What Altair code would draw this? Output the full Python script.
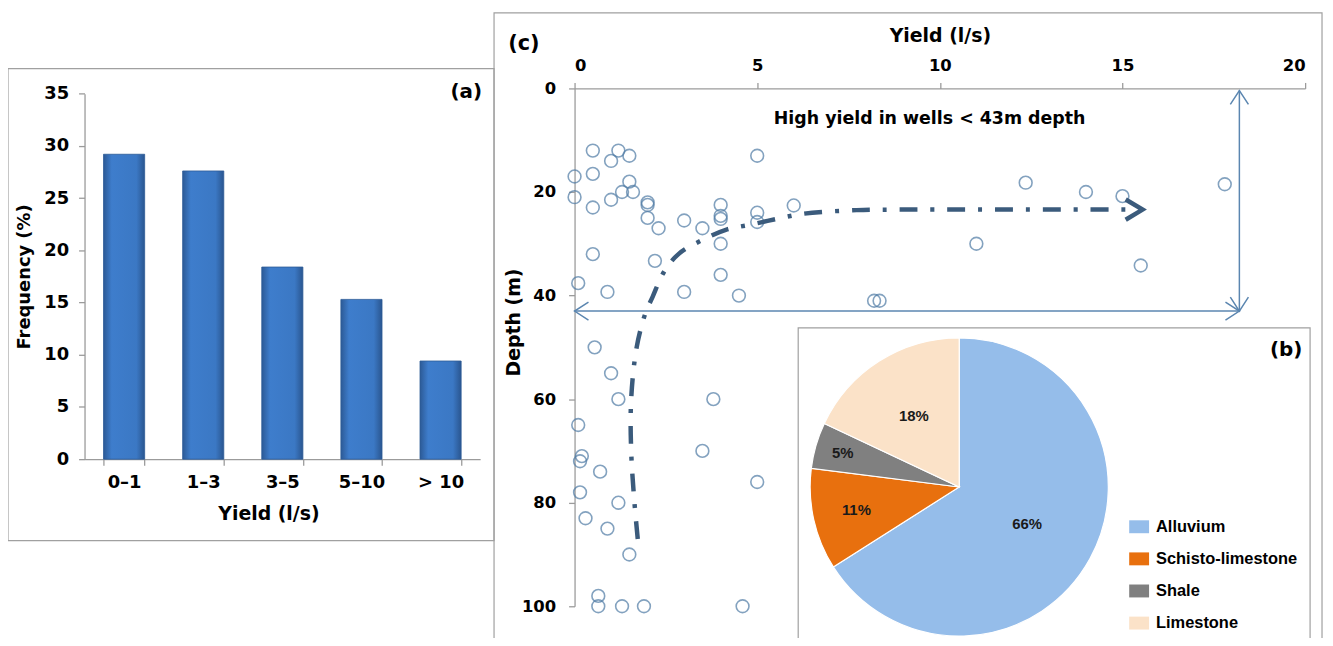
import altair as alt
import pandas as pd

# ---------------- data ----------------
# (a) frequency of yield classes
yield_classes = ["0–1", "1–3", "3–5", "5–10", "> 10"]
frequency = [29.2, 27.6, 18.4, 15.3, 9.4]

# (c) wells: yield (l/s) vs depth (m)
well_yield = [0.5, 1.2, 1.0, 1.5, 0.0, 0.5, 1.5, 0.0, 1.0, 1.3, 1.6, 0.5, 2.0, 2.0, 2.0,
              2.3, 3.0, 3.5, 4.0, 4.0, 4.0, 4.0, 4.0, 5.0, 5.0, 5.0, 0.5, 2.2, 0.1, 0.9,
              3.0, 4.5, 6.0, 8.2, 8.35, 12.35, 14.0, 15.0, 17.8, 11.0, 15.5, 0.55, 1.0, 1.2,
              3.8, 0.1, 0.2, 0.15, 0.7, 3.5, 5.0, 0.15, 1.2, 0.3, 0.9, 1.5, 0.65, 0.65, 1.3,
              1.9, 4.6]
well_depth = [12, 12, 14, 13, 17, 16.5, 18, 21, 21.5, 20, 20, 23, 22, 22.5, 25,
              27, 25.5, 27, 22.5, 24.6, 25.2, 30, 36, 13, 24, 25.8, 32, 33.3, 37.6, 39.3,
              39.3, 40, 22.6, 41, 41, 18.2, 20, 20.8, 18.5, 30, 34.2, 50, 55, 60,
              60, 65, 71, 72, 74, 70, 76, 78, 80, 83, 85, 90, 98, 100, 100,
              100, 100]

# hand-drawn trend guide
trend_yield = [1.73, 1.64, 1.55, 1.55, 1.7, 1.94, 2.14, 2.45, 2.86, 3.46, 4.14, 4.82,
               5.54, 6.26, 7.72, 8.76, 15.4]
trend_depth = [87, 80, 70, 60, 50, 43.4, 40.2, 35.4, 31.9, 29.4, 27.3, 26.3,
               25.2, 24.2, 23.5, 23.4, 23.4]

DEPTH_LIMIT = 43      # "< 43m depth"
ARROW_YIELD = 18.2    # position of the vertical double arrow
ARROW_TOP = 0.4

# (b) geology of wells
geology = ["Alluvium", "Schisto-limestone", "Shale", "Limestone"]
share = [66, 11, 5, 18]
geo_colors = ["#95BDEA", "#E8700E", "#808080", "#FBE2C8"]
label_radius = [78, 106, 122, 85]

# ---------------- styling ----------------
FONT = "DejaVu Sans"          # wide bold face of panels (a) and (c)
FONT_B = "Liberation Sans"    # narrower face of inset (b)
W, H = 1325, 630
AX_C = "#9B9B9B"
PT_C = "#4F7BA5"
TREND_C = "#3B5B7C"
ARROW_C = "#5B86B0"
BORDER_C = "#A0A0A0"
CHEVRON = "M -1 -0.65 L 0 0 L -1 0.65"
SWATCH = "M -1 -0.65 L 1 -0.65 L 1 0.65 L -1 0.65 Z"

bars_df = pd.DataFrame({"cls": yield_classes, "freq": frequency})
wells_df = pd.DataFrame({"yield": well_yield, "depth": well_depth})
trend_df = pd.DataFrame({"yield": trend_yield, "depth": trend_depth,
                         "i": list(range(len(trend_yield)))})
ann_df = pd.DataFrame({"zero": [0.0], "ax": [ARROW_YIELD], "top": [ARROW_TOP],
                       "lim": [DEPTH_LIMIT], "tip": [trend_yield[-1] + 0.15],
                       "tdepth": [trend_depth[-1]], "tx": [9.72], "ty": [6.0]})
geo_df = pd.DataFrame({"geology": geology, "share": share, "order": list(range(len(share))),
                       "label": [f"{s}%" for s in share]})
one = pd.DataFrame({"d": [0]})

axis_common = dict(grid=False, labelFont=FONT, labelFontWeight="bold",
                   labelColor="black", titleFont=FONT, titleFontWeight="bold",
                   titleColor="black", domainColor=AX_C, tickColor=AX_C,
                   domainWidth=1.3, tickWidth=1.3, tickSize=6)

# scales (explicit pixel ranges place each panel inside the single canvas)
xa = alt.Scale(domain=yield_classes, range=[77, 475], paddingInner=0.48, paddingOuter=0.24)
ya = alt.Scale(domain=[0, 35], range=[452, 84.3], nice=False, zero=False)
xc = alt.Scale(domain=[0, 20], range=[570, 1305], nice=False, zero=False)
yc = alt.Scale(domain=[0, 100], range=[79, 600], nice=False, zero=False)
th = alt.Scale(domain=[0, 100], range=[0, 6.283185307179586])

PIE_X, PIE_Y, PIE_R = 957, 480, 150


def box(x, x2, y, y2, fill="transparent"):
    return alt.Chart(one).mark_rect(fill=fill, stroke=BORDER_C, strokeWidth=1.2).encode(
        x=alt.value(x), x2=alt.value(x2), y=alt.value(y), y2=alt.value(y2))


def tag(text, x, y, size=21, font=FONT):
    return alt.Chart(one).mark_text(text=text, font=font, fontSize=size, fontWeight="bold",
                                    color="black").encode(x=alt.value(x), y=alt.value(y))


layers = []
layers.append(box(0, 489, 59, 534))
layers.append(box(489, 1322, 3, 700))

# ---- (a) bars
bar_grad = alt.LinearGradient(
    gradient="linear", x1=0, x2=1, y1=0, y2=0,
    stops=[alt.GradientStop(color="#2C5A96", offset=0),
           alt.GradientStop(color="#3E7DCC", offset=0.2),
           alt.GradientStop(color="#3B78C4", offset=0.8),
           alt.GradientStop(color="#2A5690", offset=1)])
layers.append(
    alt.Chart(bars_df).mark_bar(color=bar_grad, stroke="#2C5B96", strokeWidth=0.8).encode(
        x=alt.X("cls:N", scale=xa, sort=yield_classes,
                axis=alt.Axis(orient="bottom", offset=452 - H, tickBand="extent", labelAngle=0,
                              labelFontSize=18, labelPadding=9, title="Yield (l/s)",
                              titleFontSize=19, titlePadding=13, titleX=262, **axis_common)),
        y=alt.Y("freq:Q", scale=ya,
                axis=alt.Axis(orient="left", offset=-77, values=list(range(0, 36, 5)),
                              labelFontSize=18, labelPadding=10, title="Frequency (%)",
                              titleFontSize=18, titlePadding=10, **axis_common)),
    ))

# ---- (c) scatter
layers.append(
    alt.Chart(wells_df).mark_point(shape="circle", filled=False, size=165, strokeWidth=1.6,
                                   color=PT_C).encode(
        x=alt.X("yield:Q", scale=xc,
                axis=alt.Axis(orient="top", offset=-79, values=[0, 5, 10, 15, 20],
                              labelFontSize=16.5, labelPadding=9, title="Yield (l/s)",
                              titleFontSize=19, titlePadding=12, **axis_common)),
        y=alt.Y("depth:Q", scale=yc,
                axis=alt.Axis(orient="left", offset=-570, values=[0, 20, 40, 60, 80, 100],
                              labelFontSize=16.5, labelPadding=13, title="Depth (m)",
                              titleFontSize=19, titleX=-51, titleY=314, **axis_common)),
    ))

# trend guide
layers.append(
    alt.Chart(trend_df).mark_line(color=TREND_C, strokeWidth=4.5, strokeDash=[18, 13, 4, 13],
                                  interpolate="catmull-rom", strokeCap="butt").encode(
        x=alt.X("yield:Q", scale=xc, axis=None),
        y=alt.Y("depth:Q", scale=yc, axis=None),
        order="i:Q"))
layers.append(
    alt.Chart(ann_df).mark_point(shape="M -1 -0.6 L 0 0 L -1 0.6", filled=False, size=1156,
                                 strokeWidth=4.5, color=TREND_C, opacity=1).encode(
        x=alt.X("tip:Q", scale=xc, axis=None),
        y=alt.Y("tdepth:Q", scale=yc, axis=None)))

# double arrows marking 43 m
layers.append(
    alt.Chart(ann_df).mark_rule(color=ARROW_C, strokeWidth=1.5).encode(
        x=alt.X("ax:Q", scale=xc, axis=None),
        y=alt.Y("top:Q", scale=yc, axis=None),
        y2="lim:Q"))
layers.append(
    alt.Chart(ann_df).mark_rule(color=ARROW_C, strokeWidth=1.5).encode(
        x=alt.X("zero:Q", scale=xc, axis=None),
        x2="ax:Q",
        y=alt.Y("lim:Q", scale=yc, axis=None)))
for fx, fy, ang in [("ax", "top", 270), ("ax", "lim", 90), ("ax", "lim", 0), ("zero", "lim", 180)]:
    layers.append(
        alt.Chart(ann_df).mark_point(shape=CHEVRON, filled=False, size=784, strokeWidth=1.5,
                                     color=ARROW_C, angle=ang, opacity=1).encode(
            x=alt.X(f"{fx}:Q", scale=xc, axis=None),
            y=alt.Y(f"{fy}:Q", scale=yc, axis=None)))

layers.append(
    alt.Chart(ann_df).mark_text(text="High yield in wells < 43m depth", font=FONT, fontSize=17.5,
                                fontWeight="bold", color="black").encode(
        x=alt.X("tx:Q", scale=xc, axis=None),
        y=alt.Y("ty:Q", scale=yc, axis=None)))

# ---- (b) pie inset
layers.append(box(795, 1310, 320, 700, fill="white"))

pie_base = alt.Chart(geo_df).transform_window(
    cum="sum(share)", frame=[None, 0], sort=[alt.SortField("order")]
).transform_calculate(start="datum.cum - datum.share", mid="datum.cum - datum.share / 2")

layers.append(
    pie_base.mark_arc(radius=PIE_R, stroke="white", strokeWidth=1.2).encode(
        theta=alt.Theta("start:Q", scale=th),
        theta2="cum:Q",
        color=alt.Color("geology:N", scale=alt.Scale(domain=geology, range=geo_colors),
                        legend=alt.Legend(orient="none", legendX=1128, legendY=510, title=None,
                                          symbolType=SWATCH, symbolSize=400,
                                          symbolStrokeWidth=0, labelFont=FONT_B,
                                          labelFontSize=16.5, labelFontWeight="bold",
                                          labelColor="black", labelOffset=7, rowPadding=13.3)),
        x=alt.value(PIE_X), y=alt.value(PIE_Y)))

for g, r in zip(geology, label_radius):
    layers.append(
        pie_base.transform_filter(alt.datum.geology == g).mark_text(
            radius=r, font=FONT_B, fontSize=15, fontWeight="bold", color="#1A1A1A").encode(
            theta=alt.Theta("mid:Q", scale=th),
            text="label:N",
            x=alt.value(PIE_X), y=alt.value(PIE_Y)))

# panel tags
layers.append(tag("(a)", 461, 83, 20))
layers.append(tag("(c)", 519, 34, 21))
layers.append(tag("(b)", 1286, 342, 20))

chart = alt.layer(*layers).resolve_scale(
    x="independent", y="independent", theta="independent", color="independent"
).resolve_axis(x="independent", y="independent").properties(
    width=W, height=H, autosize=alt.AutoSizeParams(type="none"), padding=0,
    background="white"
).configure_view(strokeWidth=0)

chart.save("out.html", embed_options={"renderer": "svg", "actions": False})
